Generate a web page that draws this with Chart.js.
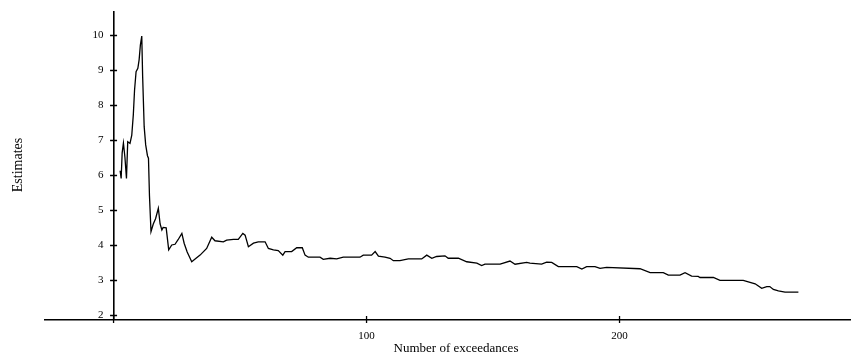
<!DOCTYPE html>
<html><head><meta charset="utf-8">
<script src="https://cdn.jsdelivr.net/npm/chart.js@4/dist/chart.umd.min.js"></script>
<style>html,body{margin:0;padding:0;background:#fff}#wrap{width:855px;height:353px;position:relative}</style>
</head><body><div id="wrap"><canvas id="c"></canvas></div>
<script>
// Number of exceedances (k)
const exceedances = [2.6,3.0,3.4,3.9,4.5,5.1,5.6,6.5,7.2,7.8,8.3,8.9,9.6,10.1,10.6,11.15,11.5,12.1,12.7,13.4,13.8,14.2,14.8,15.7,16.6,17.7,18.4,19.1,19.6,20.8,21.8,23.0,24.3,25.5,27.0,27.9,29.1,30.9,32.6,34.2,36.8,38.8,40.1,43.4,44.7,47.4,49.3,51.1,52.0,53.3,55.3,57.2,59.9,61.2,63.2,65.1,66.9,67.8,70.4,72.4,74.6,75.7,77.0,81.6,82.9,85.6,88.2,90.8,97.4,98.7,102.0,103.4,104.7,107.3,109.3,110.6,113.2,116.5,121.8,123.8,125.8,127.7,131.0,132.3,136.3,139.6,143.6,145.5,146.8,152.8,156.7,158.7,163.3,164.6,169.2,171.2,173.2,175.8,183.1,185.1,187.0,190.3,192.3,194.9,208.1,212.1,217.3,219.3,223.9,225.9,228.5,231.1,231.8,237.1,239.7,248.9,253.6,256.2,258.2,259.4,260.8,262.8,265.4,270.7];
// Estimates
const estimates = [6.12,5.9,6.63,6.91,6.5,5.9,6.95,6.9,7.14,7.71,8.43,8.95,9.05,9.29,9.71,9.97,8.81,7.38,6.86,6.55,6.48,5.4,4.38,4.6,4.75,5.05,4.6,4.43,4.5,4.49,3.86,4.0,4.02,4.15,4.33,4.05,3.8,3.52,3.62,3.71,3.9,4.22,4.12,4.09,4.14,4.16,4.16,4.33,4.28,3.95,4.05,4.09,4.09,3.9,3.86,3.84,3.71,3.81,3.81,3.92,3.92,3.71,3.65,3.65,3.59,3.62,3.6,3.65,3.65,3.71,3.71,3.81,3.68,3.65,3.62,3.55,3.55,3.6,3.6,3.71,3.62,3.67,3.69,3.62,3.62,3.52,3.48,3.41,3.45,3.45,3.54,3.45,3.5,3.48,3.45,3.51,3.5,3.38,3.38,3.31,3.38,3.38,3.33,3.36,3.32,3.21,3.21,3.14,3.14,3.21,3.11,3.1,3.07,3.07,2.99,2.99,2.89,2.76,2.81,2.81,2.73,2.69,2.65,2.65];
const yTicks = [2,3,4,5,6,7,8,9,10];
const xTicks = [0,100,200];
const xLabelled = [100,200];
const xTitle = 'Number of exceedances';
const yTitle = 'Estimates';

const points = exceedances.map((k,i)=>({x:k,y:estimates[i]}));
const SERIF = '"Liberation Serif","DejaVu Serif",serif';

const decor = {
  id:'decor',
  afterDraw(chart){
    const {ctx} = chart; const xs = chart.scales.x, ys = chart.scales.y;
    const x0 = xs.getPixelForValue(0), yb = chart.chartArea.bottom;
    ctx.save();
    ctx.strokeStyle='#000'; ctx.lineWidth=1.3;
    ctx.beginPath();
    yTicks.forEach(v=>{const p=Math.round(ys.getPixelForValue(v))+0.5; ctx.moveTo(x0-3.5,p); ctx.lineTo(x0+3.5,p);});
    xTicks.forEach(v=>{const p=xs.getPixelForValue(v); ctx.moveTo(p,yb-3.5); ctx.lineTo(p,yb+3.5);});
    ctx.stroke();
    ctx.fillStyle='#000';
    ctx.font='11px '+SERIF;
    ctx.textAlign='right'; ctx.textBaseline='middle';
    yTicks.forEach(v=>{ctx.fillText(String(v),x0-10,ys.getPixelForValue(v));});
    ctx.textAlign='center'; ctx.textBaseline='top';
    xLabelled.forEach(v=>{ctx.fillText(String(v),xs.getPixelForValue(v),yb+11);});
    ctx.font='13px '+SERIF;
    ctx.textAlign='center'; ctx.textBaseline='alphabetic';
    ctx.fillText(xTitle,456,352);
    ctx.font='14px '+SERIF;
    ctx.translate(22,165); ctx.rotate(-Math.PI/2);
    ctx.fillText(yTitle,0,0);
    ctx.restore();
  }
};

new Chart(document.getElementById('c'),{
  type:'line',
  data:{datasets:[{data:points,borderColor:'#000',borderWidth:1.3,pointRadius:0,tension:0,fill:false}]},
  options:{
    responsive:true,maintainAspectRatio:false,animation:false,devicePixelRatio:1,
    layout:{padding:{left:45,right:5,top:12,bottom:0}},
    plugins:{legend:{display:false},tooltip:{enabled:false}},
    scales:{
      x:{type:'linear',position:'bottom',min:-27.1,max:291.1,
        afterBuildTicks:s=>{s.ticks=xTicks.map(v=>({value:v}));},
        afterFit:s=>{s.height=33.5;},
        ticks:{display:false},
        grid:{drawOnChartArea:false,drawTicks:false},
        border:{color:'#000',width:1.6}},
      y:{type:'linear',position:{x:0},min:1.87,max:10.657,
        afterBuildTicks:s=>{s.ticks=yTicks.map(v=>({value:v}));},
        afterFit:s=>{s.width=0;},
        ticks:{display:false},
        grid:{drawOnChartArea:false,drawTicks:false},
        border:{color:'#000',width:1.6}}
    }
  },
  plugins:[decor]
});
</script>
</body></html>
